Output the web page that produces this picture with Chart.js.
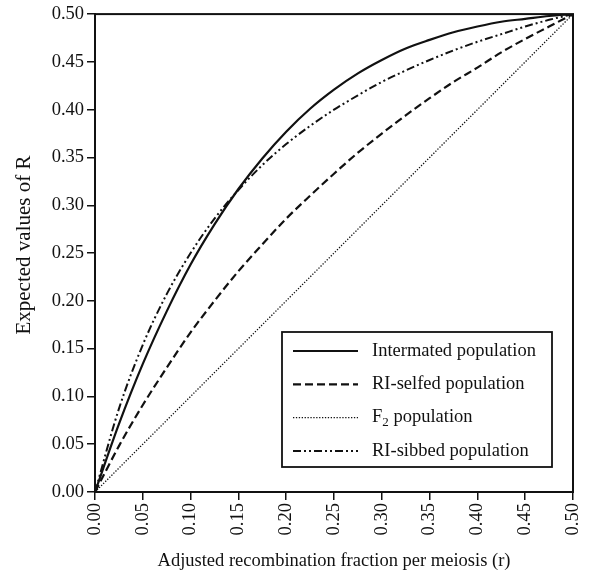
<!DOCTYPE html>
<html>
<head>
<meta charset="utf-8">
<script src="https://cdn.jsdelivr.net/npm/chart.js@4.4.1/dist/chart.umd.min.js"></script>
<style>
  html, body { margin: 0; padding: 0; background: #fff; }
  #wrap { width: 592px; height: 573px; }
</style>
</head>
<body>
<div id="wrap"><canvas id="chart" width="592" height="573"></canvas></div>
<script>
'use strict';

// Adjusted recombination fraction per meiosis (r)
const rValues = [0, 0.025, 0.05, 0.075, 0.1, 0.125, 0.15, 0.175, 0.2, 0.225, 0.25,
                 0.275, 0.3, 0.325, 0.35, 0.375, 0.4, 0.425, 0.45, 0.475, 0.5];

// Expected values of R
const intermated = [0, 0.071, 0.134, 0.189, 0.238, 0.280, 0.317, 0.349, 0.377, 0.401, 0.421,
                    0.438, 0.452, 0.464, 0.473, 0.481, 0.487, 0.492, 0.495, 0.498, 0.5];
const riSelfed   = [0, 0.048, 0.091, 0.130, 0.167, 0.200, 0.231, 0.259, 0.286, 0.310, 0.333,
                    0.355, 0.375, 0.394, 0.412, 0.429, 0.444, 0.460, 0.474, 0.487, 0.5];
const f2         = [0, 0.025, 0.05, 0.075, 0.1, 0.125, 0.15, 0.175, 0.2, 0.225, 0.25,
                    0.275, 0.3, 0.325, 0.35, 0.375, 0.4, 0.425, 0.45, 0.475, 0.5];
const riSibbed   = [0, 0.087, 0.154, 0.207, 0.250, 0.286, 0.316, 0.342, 0.364, 0.383, 0.400,
                    0.415, 0.429, 0.441, 0.452, 0.462, 0.471, 0.479, 0.487, 0.494, 0.5];

const seriesLabels = ['Intermated population', 'RI-selfed population', 'F\u2082 population', 'RI-sibbed population'];
const seriesValues = [intermated, riSelfed, f2, riSibbed];
const seriesDash = [[], [8, 4], [1.3, 1.6], [8, 3, 2, 3, 2, 3]];
const seriesWidth = [2.2, 2.2, 1.3, 2];

const FONT = '"Liberation Serif", "DejaVu Serif", serif';

function toPoints(ys) {
    const pts = [];
    for (let i = 0; i < rValues.length; i++) {
        pts.push({ x: rValues[i], y: ys[i] });
    }
    return pts;
}

const datasets = [];
for (let i = 0; i < seriesLabels.length; i++) {
    datasets.push({
        label: seriesLabels[i],
        data: toPoints(seriesValues[i]),
        borderColor: '#111',
        borderWidth: seriesWidth[i],
        borderDash: seriesDash[i],
        pointRadius: 0,
        fill: false,
        cubicInterpolationMode: 'monotone'
    });
}

// frame round the plot area
const framePlugin = {
    id: 'frame',
    afterDatasetsDraw(chart) {
        const a = chart.chartArea;
        const ctx = chart.ctx;
        ctx.save();
        ctx.strokeStyle = '#111';
        ctx.lineWidth = 2;
        ctx.setLineDash([]);
        ctx.strokeRect(a.left, a.top, a.right - a.left, a.bottom - a.top);
        ctx.restore();
    }
};

// y axis title, sits a little above the middle in the original
const yTitlePlugin = {
    id: 'yTitle',
    afterDraw(chart) {
        const ctx = chart.ctx;
        const a = chart.chartArea;
        ctx.save();
        ctx.translate(24, (a.top + a.bottom) / 2 - 8);
        ctx.rotate(-Math.PI / 2);
        ctx.fillStyle = '#111';
        ctx.font = '21px ' + FONT;
        ctx.textAlign = 'center';
        ctx.textBaseline = 'middle';
        ctx.fillText('Expected values of R', 0, 0);
        ctx.restore();
    }
};

// boxed legend inside the plot, lower right
const legendBoxPlugin = {
    id: 'legendBox',
    afterDraw(chart) {
        const a = chart.chartArea;
        const ctx = chart.ctx;
        const right = a.right - 21, bottom = a.bottom - 25;
        const left = right - 270, top = bottom - 135;
        ctx.save();
        ctx.fillStyle = '#fff';
        ctx.fillRect(left, top, right - left, bottom - top);
        ctx.strokeStyle = '#111';
        ctx.lineWidth = 1.8;
        ctx.setLineDash([]);
        ctx.strokeRect(left, top, right - left, bottom - top);

        chart.data.datasets.forEach((ds, i) => {
            const y = top + 19 + i * 33.3;
            ctx.beginPath();
            ctx.lineWidth = ds.borderWidth;
            ctx.setLineDash(ds.borderDash);
            ctx.moveTo(left + 11, y);
            ctx.lineTo(left + 76, y);
            ctx.stroke();
            ctx.setLineDash([]);

            ctx.fillStyle = '#111';
            ctx.textBaseline = 'middle';
            ctx.textAlign = 'left';
            ctx.font = '18.5px ' + FONT;
            let x = left + 90;
            const parts = ds.label.split('\u2082');
            ctx.fillText(parts[0], x, y);
            if (parts.length > 1) {
                x += ctx.measureText(parts[0]).width;
                ctx.font = '13px ' + FONT;
                ctx.fillText('2', x, y + 5);
                x += ctx.measureText('2').width;
                ctx.font = '18.5px ' + FONT;
                ctx.fillText(parts[1], x, y);
            }
        });
        ctx.restore();
    }
};

const config = {
    type: 'line',
    data: { datasets: datasets },
    options: {
        responsive: false,
        animation: false,
        layout: { padding: { top: 13, right: 19, left: 0, bottom: 0 } },
        plugins: {
            legend: { display: false },
            tooltip: { enabled: false }
        },
        scales: {
            x: {
                type: 'linear',
                min: 0,
                max: 0.5,
                afterFit(scale) {
                    scale.height = 81;
                    scale.paddingRight = 0;
                    scale.paddingLeft = 0;
                },
                border: { display: true, color: '#111', width: 2 },
                grid: { drawOnChartArea: false, drawTicks: true, tickLength: 8, color: '#111', lineWidth: 1.5 },
                ticks: {
                    stepSize: 0.05,
                    minRotation: 90,
                    maxRotation: 90,
                    padding: 3,
                    color: '#111',
                    font: { family: FONT, size: 18.5 },
                    callback: (v) => Number(v).toFixed(2)
                },
                title: {
                    display: true,
                    text: 'Adjusted recombination fraction per meiosis (r)',
                    color: '#111',
                    font: { family: FONT, size: 18.5 },
                    padding: { top: 0, bottom: 1 }
                }
            },
            y: {
                type: 'linear',
                min: 0,
                max: 0.5,
                afterFit(scale) { scale.width = 95; },
                border: { display: true, color: '#111', width: 2 },
                grid: { drawOnChartArea: false, drawTicks: true, tickLength: 8, color: '#111', lineWidth: 1.5 },
                ticks: {
                    stepSize: 0.05,
                    padding: 3,
                    color: '#111',
                    font: { family: FONT, size: 18.5 },
                    callback: (v) => Number(v).toFixed(2)
                }
            }
        }
    },
    plugins: [framePlugin, yTitlePlugin, legendBoxPlugin]
};

const myChart = new Chart(document.getElementById('chart'), config);
</script>
</body>
</html>
